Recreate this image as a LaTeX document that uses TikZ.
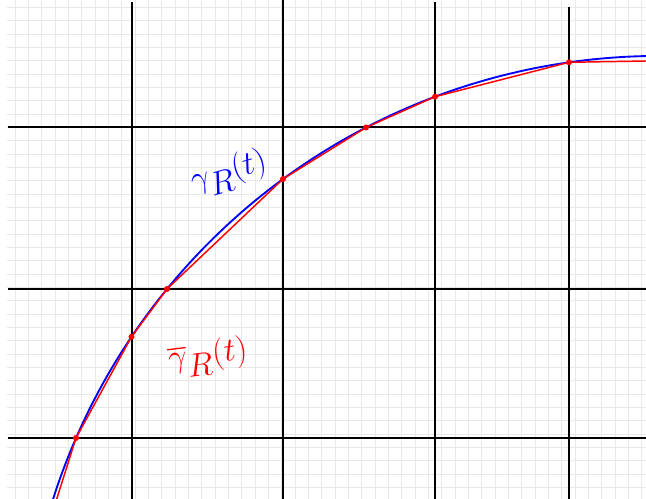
\documentclass[tikz,border=0pt]{standalone}
\usepackage{amsmath}
\begin{document}
\begin{tikzpicture}[x=0.75pt,y=-0.75pt,
  lightgrid/.style={draw=black!9,line width=0.6pt},
  axisline/.style={draw=black,line width=1.5pt},
  curveblue/.style={draw=blue,line width=1.4pt},
  curvered/.style={draw=red,line width=1.1pt},
  vertexdot/.style={fill=red,draw=none,circle,inner sep=0pt,minimum size=4.5pt},
  lbl/.style={inner sep=0pt,font=\fontsize{34}{40}\selectfont}]
\useasboundingbox (0,0) rectangle (646,499);
\clip (0,0) rectangle (646,499);
\fill[white] (0,0) rectangle (646,499);
% light grid
\foreach \i in {0,...,47} {\draw[lightgrid] ({15+13.3333*\i},0) -- ({15+13.3333*\i},499);}
\foreach \j in {0,...,37} {\draw[lightgrid] (7,{7.333+13.3333*\j}) -- (646,{7.333+13.3333*\j});}
% black grid lines
\coordinate (v1t) at (132,2);   \coordinate (v1b) at (132,499);
\coordinate (v2t) at (283,0);   \coordinate (v2b) at (283,499);
\coordinate (v3t) at (435,2);   \coordinate (v3b) at (435,499);
\coordinate (v4t) at (569,7);   \coordinate (v4b) at (569,499);
\coordinate (h1l) at (8,127);   \coordinate (h1r) at (646,127);
\coordinate (h2l) at (8,289);   \coordinate (h2r) at (646,289);
\coordinate (h3l) at (8,438);   \coordinate (h3r) at (646,438);
\draw[axisline] (v1t) -- (v1b);
\draw[axisline] (v2t) -- (v2b);
\draw[axisline] (v3t) -- (v3b);
\draw[axisline] (v4t) -- (v4b);
\draw[axisline] (h1l) -- (h1r);
\draw[axisline] (h2l) -- (h2r);
\draw[axisline] (h3l) -- (h3r);
% polygon vertices (on the blue arc)
\coordinate (p1) at (76,438);
\coordinate (p2) at (131.5,336.8);
\coordinate (p3) at (167,289);
\coordinate (p4) at (283,179);
\coordinate (p5) at (366,127.5);
\coordinate (p6) at (435,96.7);
\coordinate (p7) at (569,62.3);
\coordinate (r0) at (56.7,499);
\coordinate (r9) at (646,61);
% blue curve
\draw[curveblue] plot[domain=90.5:163.5,samples=120,variable=\t] ({659.05+635.9*cos(\t)},{691.8-635.9*sin(\t)});
% red polyline
\draw[curvered] (r0) -- (p1) -- (p2) -- (p3) -- (p4) -- (p5) -- (p6) -- (p7) -- (r9);
\foreach \p in {p1,p2,p3,p4,p5,p6,p7} {\node[vertexdot] at (\p) {};}
% labels
\node[lbl,text=blue,rotate=16] (lblue) at (229,173) {$\gamma_R(t)$};
\node[lbl,text=red,rotate=7] (lred) at (208,357) {$\overline{\gamma}_R(t)$};
\end{tikzpicture}
\end{document}
